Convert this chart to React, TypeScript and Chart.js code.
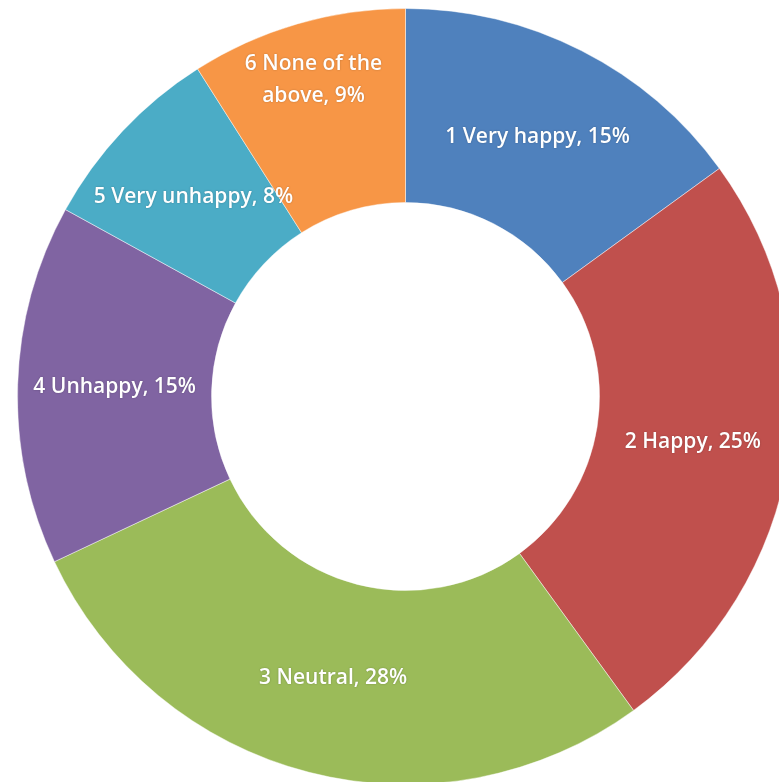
import React, { useEffect, useRef } from "react";
import { Chart, registerables } from "chart.js";

Chart.register(...registerables);

const categories = ["1 Very happy", "2 Happy", "3 Neutral", "4 Unhappy", "5 Very unhappy", "6 None of the above"];
const values = [15, 25, 28, 15, 8, 9];
const colors = ["#4F81BD", "#C0504D", "#9BBB59", "#8064A2", "#4BACC6", "#F79646"];
const labelLines = [
  ["1 Very happy, 15%"],
  ["2 Happy, 25%"],
  ["3 Neutral, 28%"],
  ["4 Unhappy, 15%"],
  ["5 Very unhappy, 8%"],
  ["6 None of the", "above, 9%"],
];
const labelRadialPos = [0.5, 0.5, 0.5, 0.5, 0.5, 0.7];

const labelPlugin = {
  id: "sliceLabels",
  afterDatasetsDraw(chart: any) {
    const ctx = chart.ctx;
    const meta = chart.getDatasetMeta(0);
    ctx.save();
    ctx.font = "600 21px 'Open Sans', sans-serif";
    ctx.fillStyle = "#ffffff";
    ctx.textAlign = "center";
    ctx.textBaseline = "middle";
    ctx.shadowColor = "rgba(0,0,0,0.25)";
    ctx.shadowBlur = 2;
    meta.data.forEach((arc: any, i: number) => {
      const p = arc.getProps(["x", "y", "startAngle", "endAngle", "innerRadius", "outerRadius"], true);
      const mid = (p.startAngle + p.endAngle) / 2;
      const r = p.innerRadius + (p.outerRadius - p.innerRadius) * labelRadialPos[i];
      const cx = p.x + Math.cos(mid) * r;
      const cy = p.y + Math.sin(mid) * r;
      const lines = labelLines[i];
      const lh = 32;
      lines.forEach((t, j) => {
        ctx.fillText(t, cx, cy + (j - (lines.length - 1) / 2) * lh);
      });
    });
    ctx.restore();
  },
};

export default function App() {
  const ref = useRef<HTMLCanvasElement>(null);
  useEffect(() => {
    if (!ref.current) return;
    const chart = new Chart(ref.current, {
      type: "doughnut",
      data: {
        labels: categories,
        datasets: [
          {
            data: values,
            backgroundColor: colors,
            borderColor: "rgba(255,255,255,0.45)",
            borderWidth: 1,
          },
        ],
      },
      options: {
        animation: false,
        responsive: false,
        cutout: "50%",
        plugins: { legend: { display: false }, tooltip: { enabled: false } },
        layout: { padding: 0 },
      },
      plugins: [labelPlugin],
    });
    return () => chart.destroy();
  }, []);
  return (
    <div style={{ position: "fixed", inset: 0, overflow: "hidden", background: "#fff" }}>
      <canvas
        ref={ref}
        width={777}
        height={777}
        style={{ position: "absolute", left: 16.5, top: 7.5, width: 777, height: 777 }}
      />
    </div>
  );
}
